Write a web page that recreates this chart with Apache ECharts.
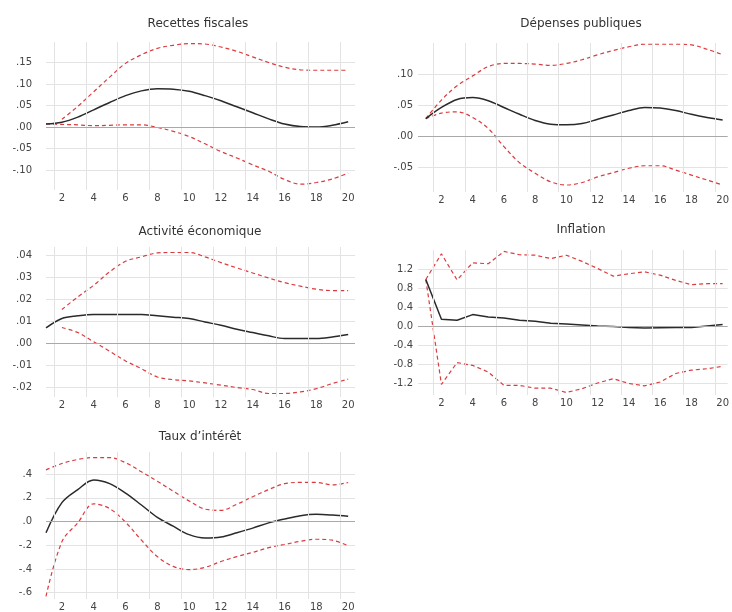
<!DOCTYPE html>
<html>
<head>
<meta charset="utf-8">
<script src="https://cdn.jsdelivr.net/npm/echarts@6/dist/echarts.min.js"></script>
<style>
html,body{margin:0;padding:0;background:#fff;}
#chart{width:732px;height:612px;}
</style>
</head>
<body>
<div id="chart"></div>
<script>
// Horizon (periods)
const periods = [1,2,3,4,5,6,7,8,9,10,11,12,13,14,15,16,17,18,19,20];

// Panel titles
const titles = ['Recettes fiscales', 'Dépenses publiques', 'Activité économique', 'Inflation', 'Taux d\u2019intérêt'];

// Recettes fiscales
const rfMed = [0.007, 0.011, 0.023, 0.040, 0.057, 0.073, 0.084, 0.089, 0.088, 0.083, 0.073, 0.061, 0.047, 0.033, 0.019, 0.007, 0.001, 0.000, 0.004, 0.012];
const rfUp  = [null, 0.018, 0.048, 0.082, 0.116, 0.148, 0.168, 0.183, 0.190, 0.194, 0.193, 0.186, 0.176, 0.163, 0.150, 0.139, 0.133, 0.132, 0.132, 0.132];
const rfLo  = [0.007, 0.006, 0.005, 0.003, 0.004, 0.005, 0.005, -0.001, -0.010, -0.022, -0.039, -0.057, -0.072, -0.088, -0.103, -0.122, -0.133, -0.129, -0.121, -0.107];

// Dépenses publiques
const dpMed = [0.028, 0.046, 0.059, 0.062, 0.057, 0.046, 0.035, 0.025, 0.019, 0.018, 0.020, 0.027, 0.034, 0.041, 0.046, 0.045, 0.041, 0.035, 0.030, 0.026];
const dpUp  = [0.028, 0.058, 0.081, 0.097, 0.112, 0.117, 0.117, 0.116, 0.114, 0.117, 0.123, 0.131, 0.138, 0.144, 0.148, 0.148, 0.148, 0.147, 0.140, 0.131];
const dpLo  = [0.028, 0.037, 0.039, 0.030, 0.012, -0.017, -0.043, -0.060, -0.074, -0.079, -0.075, -0.066, -0.059, -0.052, -0.048, -0.048, -0.055, -0.063, -0.071, -0.079];

// Activité économique
const aeMed = [0.0071, 0.0114, 0.0126, 0.0132, 0.0132, 0.0132, 0.0132, 0.0126, 0.0120, 0.0114, 0.0098, 0.0083, 0.0065, 0.0050, 0.0035, 0.0023, 0.0023, 0.0023, 0.0030, 0.0041];
const aeUp  = [null, 0.0155, 0.0212, 0.0265, 0.0326, 0.0374, 0.0394, 0.0412, 0.0414, 0.0414, 0.0394, 0.0368, 0.0344, 0.0321, 0.0298, 0.0277, 0.0261, 0.0247, 0.0241, 0.0241];
const aeLo  = [null, 0.0073, 0.0050, 0.0008, -0.0035, -0.0079, -0.0114, -0.0152, -0.0164, -0.0170, -0.0179, -0.0189, -0.0200, -0.0209, -0.0227, -0.0227, -0.0220, -0.0205, -0.0182, -0.0162];

// Inflation
const infMed = [0.98, 0.14, 0.12, 0.24, 0.19, 0.17, 0.12, 0.10, 0.06, 0.04, 0.02, 0.00, -0.01, -0.03, -0.04, -0.035, -0.03, -0.03, 0.00, 0.03];
const infUp  = [0.98, 1.52, 0.97, 1.33, 1.31, 1.57, 1.50, 1.49, 1.42, 1.49, 1.36, 1.21, 1.05, 1.10, 1.14, 1.07, 0.96, 0.87, 0.89, 0.89];
const infLo  = [0.98, -1.23, -0.77, -0.83, -0.97, -1.25, -1.25, -1.31, -1.31, -1.40, -1.32, -1.20, -1.11, -1.21, -1.26, -1.18, -1.00, -0.93, -0.90, -0.85];

// Taux d'intérêt
const tiMed = [-0.094, 0.16, 0.27, 0.35, 0.32, 0.24, 0.14, 0.036, -0.039, -0.11, -0.138, -0.13, -0.094, -0.055, -0.011, 0.022, 0.05, 0.061, 0.055, 0.044];
const tiUp  = [0.436, 0.49, 0.524, 0.54, 0.54, 0.497, 0.42, 0.34, 0.257, 0.174, 0.105, 0.095, 0.146, 0.21, 0.27, 0.32, 0.33, 0.33, 0.31, 0.33];
const tiLo  = [-0.63, -0.17, -0.01, 0.15, 0.11, -0.005, -0.157, -0.295, -0.378, -0.405, -0.386, -0.337, -0.295, -0.26, -0.22, -0.193, -0.166, -0.149, -0.157, -0.204];

// Vertical grid lines of the original (between periods)
const vGrid = [1.5, 3.5, 5.5, 7.5, 9.5, 11.5, 13.5, 15.5, 17.5, 19.5];

// layout per panel
const panels = [
  {title: titles[0], med: rfMed, up: rfUp, lo: rfLo, grid: {left: 46, top: 42, width: 309, height: 148}, x: [1, 20.43], y: [-0.1465, 0.1977], step: 0.05, fmt: 'dot2', tx: 193, ty: 13, smooth: 0.35},
  {title: titles[1], med: dpMed, up: dpUp, lo: dpLo, grid: {left: 418, top: 43, width: 314, height: 149}, x: [0.5, 20.32], y: [-0.0903, 0.15], step: 0.05, fmt: 'dot2', tx: 576, ty: 13, smooth: 0.35},
  {title: titles[2], med: aeMed, up: aeUp, lo: aeLo, grid: {left: 46, top: 247, width: 309, height: 150}, x: [1, 20.43], y: [-0.0243, 0.0439], step: 0.01, fmt: 'dot2', tx: 195, ty: 221, smooth: 0.35},
  {title: titles[3], med: infMed, up: infUp, lo: infLo, grid: {left: 418, top: 250, width: 314, height: 145}, x: [0.5, 20.32], y: [-1.453, 1.6], step: 0.4, fmt: 'lead1', tx: 576, ty: 219, smooth: false},
  {title: titles[4], med: tiMed, up: tiUp, lo: tiLo, grid: {left: 46, top: 452, width: 309, height: 150}, x: [1, 20.43], y: [-0.653, 0.587], step: 0.2, fmt: 'dot1', tx: 195, ty: 426, smooth: 0.35}
];

function fmtY(kind) {
  return function (v) {
    if (kind === 'lead1') {
      let s = v.toFixed(1);
      if (s === '-0.0') s = '0.0';
      return s;
    }
    const d = kind === 'dot2' ? 2 : 1;
    let s = Math.abs(v).toFixed(d).replace(/^0/, '');
    return (v < -1e-9 ? '-' : '') + s;
  };
}

const FONT = 'DejaVu Sans';
const RED = '#db3b3f';
const option = {
  backgroundColor: '#ffffff',
  animation: false,
  title: [], grid: [], xAxis: [], yAxis: [], series: []
};

panels.forEach(function (p, i) {
  option.title.push({
    text: p.title, left: p.tx, top: p.ty, textAlign: 'center',
    textStyle: {fontFamily: FONT, fontSize: 12, fontWeight: 'normal', color: '#333'}
  });
  option.grid.push(Object.assign({containLabel: false}, p.grid));
  option.xAxis.push({
    type: 'value', gridIndex: i, min: p.x[0], max: p.x[1],
    minInterval: 2, maxInterval: 2,
    axisLine: {show: false}, axisTick: {show: false}, splitLine: {show: false},
    axisLabel: {
      fontFamily: FONT, fontSize: 10, color: '#444', margin: 3,
      showMinLabel: false, showMaxLabel: false,
      formatter: function (v) { return (Math.abs(v - Math.round(v)) < 1e-6 && Math.round(v) % 2 === 0) ? String(Math.round(v)) : ''; }
    }
  });
  option.yAxis.push({
    type: 'value', gridIndex: i, min: p.y[0], max: p.y[1],
    minInterval: p.step, maxInterval: p.step,
    axisLine: {show: false}, axisTick: {show: false},
    splitLine: {show: true, showMinLine: false, showMaxLine: false, lineStyle: {color: '#e3e3e3', width: 1}},
    axisLabel: {
      fontFamily: FONT, fontSize: 10, color: '#444',
      margin: (i % 2 === 1) ? 5 : 14,
      showMinLabel: false, showMaxLabel: false,
      formatter: fmtY(p.fmt)
    }
  });
  // grid decoration: vertical lines and zero line
  option.series.push({
    type: 'line', xAxisIndex: i, yAxisIndex: i, data: [], z: 1, silent: true,
    markLine: {
      silent: true, symbol: 'none', label: {show: false}, animation: false,
      data: vGrid.map(function (v) { return {xAxis: v, lineStyle: {color: '#e3e3e3', width: 1, type: 'solid'}}; })
        .concat([{yAxis: 0, lineStyle: {color: '#a9a9a9', width: 1, type: 'solid'}}])
    }
  });
  const mk = function (arr) { return periods.map(function (t, k) { return [t, arr[k]]; }); };
  option.series.push({
    type: 'line', xAxisIndex: i, yAxisIndex: i, data: mk(p.up), z: 3,
    symbol: 'none', smooth: p.smooth, connectNulls: false,
    lineStyle: {color: RED, width: 1.2, type: [4, 3]}
  });
  option.series.push({
    type: 'line', xAxisIndex: i, yAxisIndex: i, data: mk(p.lo), z: 3,
    symbol: 'none', smooth: p.smooth, connectNulls: false,
    lineStyle: {color: RED, width: 1.2, type: [4, 3]}
  });
  option.series.push({
    type: 'line', xAxisIndex: i, yAxisIndex: i, data: mk(p.med), z: 4,
    symbol: 'none', smooth: p.smooth,
    lineStyle: {color: '#2a2a2a', width: 1.5}
  });
});

const chart = echarts.init(document.getElementById('chart'), null, {renderer: 'canvas'});
chart.setOption(option);
</script>
</body>
</html>
